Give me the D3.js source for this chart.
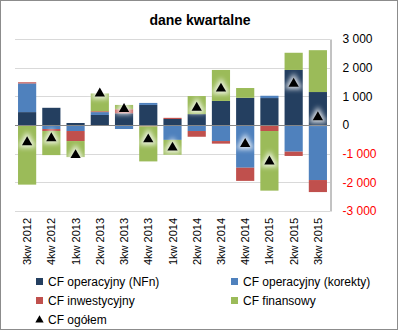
<!DOCTYPE html>
<html lang="pl">
<head>
<meta charset="UTF-8">
<title>dane kwartalne</title>
<style>
  body { margin: 0; background: #fff; }
  svg { display: block; font-family: "Liberation Sans", Arial, sans-serif; }
</style>
</head>
<body>
<svg id="chart" width="398" height="330"></svg>
<script src="https://d3js.org/d3.v7.min.js"></script>
<script>
// kwartaly
var kwartaly = ["3kw 2012", "4kw 2012", "1kw 2013", "2kw 2013", "3kw 2013", "4kw 2013",
  "1kw 2014", "2kw 2014", "3kw 2014", "4kw 2014", "1kw 2015", "2kw 2015", "3kw 2015"];

// serie
var cfNFn      = [450, 600, 70, 350, 410, 700, 210, 380, 840, 950, 940, 1920, 1150];
var cfKorekty  = [1000, -140, -210, 100, -140, 70, -520, -210, -560, -1490, 80, -930, -1920];
var cfInwest   = [40, -70, -350, 30, 140, -50, 40, -200, -90, -460, -210, -150, -420];
var cfFinans   = [-2080, -840, -560, 620, 150, -1220, -520, 630, 1080, 340, -2080, 600, 1460];
var cfOgolem   = [-600, -460, -1050, 1100, 560, -500, -790, 600, 1270, -660, -1270, 1440, 270];

var osY = [-3000, -2000, -1000, 0, 1000, 2000, 3000];

var serie = [
  {nazwa: "CF operacyjny (NFn)", wartosci: cfNFn, kolor: "#243f60"},
  {nazwa: "CF operacyjny (korekty)", wartosci: cfKorekty, kolor: "#4f81bd"},
  {nazwa: "CF inwestycyjny", wartosci: cfInwest, kolor: "#c0504d"},
  {nazwa: "CF finansowy", wartosci: cfFinans, kolor: "#9bbb59"}
];

var svg = d3.select("#chart");

// ramka
svg.append("rect").attr("x", 0.5).attr("y", 0.5).attr("width", 397).attr("height", 329)
  .attr("fill", "#fff").attr("stroke", "#8c8c8c");

var x = d3.scaleBand().domain(kwartaly).range([15, 330]).paddingInner(0.25).paddingOuter(0.125);
var y = d3.scaleLinear().domain([-3000, 3000]).range([211, 39]);

// glow dla trojkatow
var defs = svg.append("defs");
var f = defs.append("filter").attr("id", "glow").attr("x", "-100%").attr("y", "-100%")
  .attr("width", "300%").attr("height", "300%");
f.append("feGaussianBlur").attr("stdDeviation", 2.5);

// siatka
svg.append("g").selectAll("line").data(osY.filter(d => d !== 0)).join("line")
  .attr("x1", 15).attr("x2", 330)
  .attr("y1", d => Math.round(y(d)) + 0.5).attr("y2", d => Math.round(y(d)) + 0.5)
  .attr("stroke", "#d9d9d9");

// tytul
svg.append("text").attr("x", 200).attr("y", 25).attr("text-anchor", "middle")
  .attr("font-weight", "bold").attr("font-size", 14).text("dane kwartalne");

// stos
var tabela = kwartaly.map((k, i) => {
  var o = {kw: k};
  serie.forEach(s => o[s.nazwa] = s.wartosci[i]);
  return o;
});
var stos = d3.stack().keys(serie.map(s => s.nazwa)).offset(d3.stackOffsetDiverging)(tabela);

svg.append("g").selectAll("g").data(stos).join("g")
  .attr("fill", (d, i) => serie[i].kolor)
  .selectAll("rect").data(d => d).join("rect")
  .attr("x", d => x(d.data.kw))
  .attr("width", x.bandwidth())
  .attr("y", d => y(Math.max(d[0], d[1])))
  .attr("height", d => Math.abs(y(d[0]) - y(d[1])));

// linia zero
svg.append("line").attr("x1", 15).attr("x2", 330)
  .attr("y1", Math.round(y(0)) + 0.5).attr("y2", Math.round(y(0)) + 0.5)
  .attr("stroke", "#868686");

// os prawa
var os = d3.axisRight(y).tickValues(osY).tickSize(0).tickPadding(12)
  .tickFormat(d => d3.format(",")(d).replace(/,/g, " ").replace("−", "-"));
var gOs = svg.append("g").attr("transform", "translate(330.5,0)").call(os);
gOs.select(".domain").attr("stroke", "#868686");
gOs.selectAll("text").attr("font-size", 12).attr("font-family", "Liberation Sans, Arial, sans-serif")
  .attr("fill", d => d < 0 ? "#ff0000" : "#000");

// etykiety osi X
svg.append("g").selectAll("text").data(kwartaly).join("text")
  .attr("transform", d => "translate(" + (x(d) + x.bandwidth() / 2 + 4) + ",218) rotate(-90)")
  .attr("text-anchor", "end").attr("font-size", 11).text(d => d);

// trojkaty CF ogolem
var tri = d3.symbol().type(d3.symbolTriangle).size(46);
var gTri = svg.append("g");
gTri.selectAll("path.g").data(cfOgolem).join("path")
  .attr("class", "g")
  .attr("d", d3.symbol().type(d3.symbolTriangle).size(150))
  .attr("transform", (d, i) => "translate(" + (x(kwartaly[i]) + x.bandwidth() / 2) + "," + y(d) + ")")
  .attr("fill", "#ffffff").attr("opacity", 0.85).attr("filter", "url(#glow)");
gTri.selectAll("path.t").data(cfOgolem).join("path")
  .attr("class", "t")
  .attr("d", tri)
  .attr("transform", (d, i) => "translate(" + (x(kwartaly[i]) + x.bandwidth() / 2) + "," + y(d) + ")")
  .attr("fill", "#000");

// legenda
var leg = [
  {nazwa: serie[0].nazwa, kolor: serie[0].kolor, x: 36, y: 282},
  {nazwa: serie[1].nazwa, kolor: serie[1].kolor, x: 231, y: 282},
  {nazwa: serie[2].nazwa, kolor: serie[2].kolor, x: 36, y: 301},
  {nazwa: serie[3].nazwa, kolor: serie[3].kolor, x: 231, y: 301}
];
var gl = svg.append("g");
leg.forEach(l => {
  gl.append("rect").attr("x", l.x).attr("y", l.y - 4).attr("width", 7).attr("height", 7).attr("fill", l.kolor);
  gl.append("text").attr("x", l.x + 12).attr("y", l.y + 4).attr("font-size", 12).text(l.nazwa);
});
gl.append("path").attr("d", d3.symbol().type(d3.symbolTriangle).size(30))
  .attr("transform", "translate(39.5,320)").attr("fill", "#000");
gl.append("text").attr("x", 48).attr("y", 324).attr("font-size", 12).text("CF ogółem");
</script>
</body>
</html>
